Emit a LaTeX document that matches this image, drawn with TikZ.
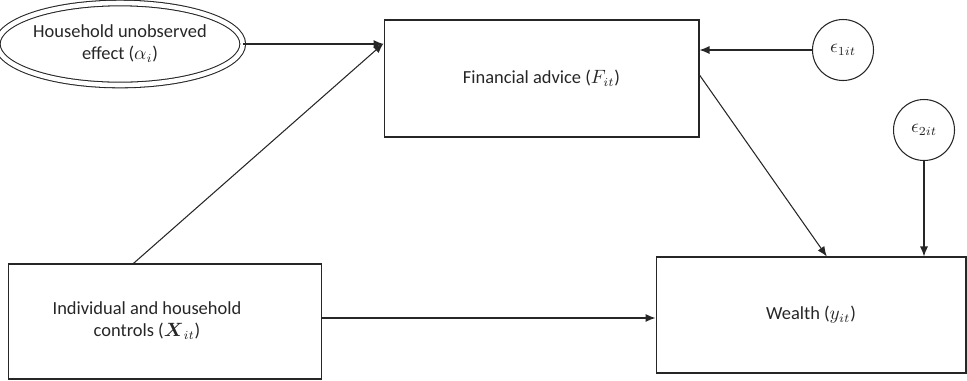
\documentclass[tikz,border=0pt]{standalone}
\usepackage{amsmath}
\usepackage{fontspec}
\setmainfont{Carlito}
\usetikzlibrary{arrows.meta,shapes.geometric}
\tikzset{
  box/.style={draw, semithick, rectangle, align=center},
  err/.style={draw, semithick, circle, minimum size=1.22cm, inner sep=0pt},
  arr/.style={-{Latex[length=2mm,width=1.6mm]}, semithick}
}
\begin{document}
\begin{tikzpicture}[x=0.02cm, y=-0.02cm, font=\fontsize{10.5}{12.5}\selectfont, color=black!85]
    \useasboundingbox (0,0) rectangle (967,380);

    \node[draw, semithick, ellipse, double, double distance=2.6pt, minimum width=4.46cm, minimum height=1.64cm, align=center, inner sep=0pt] at (120,44) (hh) {Household unobserved\\ effect ($\alpha_i$)};
    \node[box, minimum width=6.3cm, minimum height=2.34cm] at (541.5,78.5) (fa) {Financial advice ($F_{it}$)};
    \node[err] at (843,50) (e1) {$\epsilon_{1it}$};
    \node[err] at (924,130) (e2) {$\epsilon_{2it}$};
    \node[box, minimum width=6.28cm, minimum height=2.3cm] at (165,321.5) (ctl) {};
    \node[align=center] at (147,321) (ctltext) {Individual and household\\ controls ($\boldsymbol{X}_{it}$)};
    \node[box, minimum width=6.2cm, minimum height=2.32cm] at (811,315) (w) {Wealth ($y_{it}$)};

    \draw[arr] (hh.east) -- (hh.east -| fa.west);
    \draw[arr] (e1.west) -- (e1.west -| fa.east);
    \draw[arr] ([xshift=-18]ctl.north) -- ([yshift=20]fa.west);
    \draw[arr] ([yshift=2]fa.east) -- ([xshift=9]w.north);
    \draw[arr] (e2.south) -- (e2.south |- w.north);
    \draw[arr] ([yshift=2]ctl.east) -- ([yshift=2]ctl.east -| w.west);
\end{tikzpicture}
\end{document}
